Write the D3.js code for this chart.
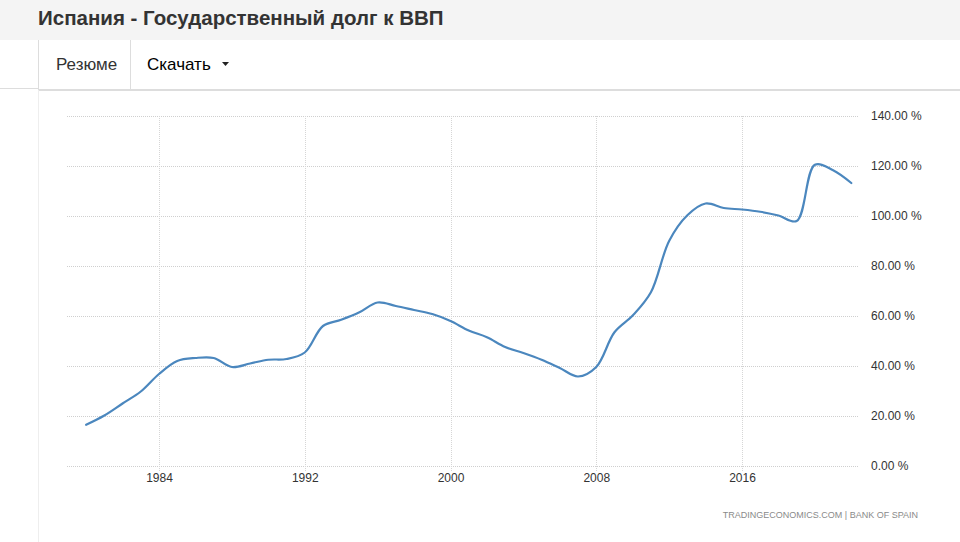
<!DOCTYPE html>
<html>
<head>
<meta charset="utf-8">
<script src="https://cdn.jsdelivr.net/npm/d3@7"></script>
<style>
  html, body { margin: 0; padding: 0; background: #fff; }
  svg { display: block; font-family: "Liberation Sans", Arial, sans-serif; }
</style>
</head>
<body>
<svg id="chart" width="960" height="542"></svg>
<script>
const years = [1980, 1981, 1982, 1983, 1984, 1985, 1986, 1987, 1988, 1989,
  1990, 1991, 1992, 1993, 1994, 1995, 1996, 1997, 1998, 1999,
  2000, 2001, 2002, 2003, 2004, 2005, 2006, 2007, 2008, 2009,
  2010, 2011, 2012, 2013, 2014, 2015, 2016, 2017, 2018, 2019,
  2020, 2021, 2022];
const debt = [16.5, 20.2, 25.0, 29.8, 36.8, 42.0, 43.2, 43.2, 39.6, 41.0,
  42.5, 42.8, 45.4, 56.0, 58.5, 61.5, 65.4, 64.0, 62.4, 60.8,
  58.0, 54.2, 51.5, 47.6, 45.2, 42.5, 39.2, 35.8, 39.6, 53.5,
  60.2, 69.5, 90.0, 100.3, 105.0, 103.2, 102.6, 101.7, 100.2, 98.0,
  120.5, 118.3, 113.2];
const xTicks = [1984, 1992, 2000, 2008, 2016];
const yTicks = [0, 20, 40, 60, 80, 100, 120, 140];

const svg = d3.select('#chart');

// page chrome: header band, tabs
svg.append('rect').attr('x', 0).attr('y', 0).attr('width', 960).attr('height', 40).attr('fill', '#f4f4f4');
svg.append('text').attr('x', 38).attr('y', 25)
  .attr('font-size', 20.5).attr('font-weight', 'bold').attr('fill', '#333')
  .text('Испания - Государственный долг к ВВП');

svg.append('line').attr('x1', 0).attr('x2', 39).attr('y1', 88.5).attr('y2', 88.5).attr('stroke', '#ddd');
svg.append('line').attr('x1', 38.5).attr('x2', 38.5).attr('y1', 40).attr('y2', 90).attr('stroke', '#ddd');
svg.append('line').attr('x1', 38.5).attr('x2', 38.5).attr('y1', 90).attr('y2', 542).attr('stroke', '#eee');
svg.append('line').attr('x1', 130.5).attr('x2', 130.5).attr('y1', 40).attr('y2', 89).attr('stroke', '#ddd');
svg.append('rect').attr('x', 39).attr('y', 89).attr('width', 921).attr('height', 2).attr('fill', '#ddd');

svg.append('text').attr('x', 56).attr('y', 70).attr('font-size', 17).attr('fill', '#333').text('Резюме');
svg.append('text').attr('x', 147).attr('y', 70).attr('font-size', 17).attr('fill', '#000').text('Скачать');
svg.append('path').attr('d', 'M222,62 L229,62 L225.5,66 Z').attr('fill', '#222');

// chart
const x = d3.scaleLinear().domain([1984, 2016]).range([159, 742]);
const y = d3.scaleLinear().domain([0, 140]).range([466, 116]);
const gridLeft = 67, gridRight = 858;

const grid = svg.append('g');
grid.selectAll('line.h').data(yTicks).enter().append('line')
  .attr('class', 'h')
  .attr('x1', gridLeft).attr('x2', gridRight)
  .attr('y1', d => Math.round(y(d)) + 0.5).attr('y2', d => Math.round(y(d)) + 0.5)
  .attr('stroke', '#cfcfcf').attr('stroke-dasharray', '1,1');
grid.selectAll('line.v').data(xTicks).enter().append('line')
  .attr('class', 'v')
  .attr('x1', d => Math.round(x(d)) + 0.5).attr('x2', d => Math.round(x(d)) + 0.5)
  .attr('y1', y(140)).attr('y2', y(0) + 6)
  .attr('stroke', '#d6d6d6').attr('stroke-dasharray', '1,1');

const yAxis = d3.axisRight(y).tickValues(yTicks).tickSize(0).tickPadding(0)
  .tickFormat(d => d3.format('.2f')(d) + ' %');
svg.append('g').attr('transform', `translate(871,0)`).call(yAxis)
  .call(g => g.select('.domain').remove())
  .call(g => g.selectAll('text').attr('font-size', 12).attr('fill', '#333')
    .attr('font-family', '"Liberation Sans", Arial, sans-serif'));

const xAxis = d3.axisBottom(x).tickValues(xTicks).tickSize(0).tickPadding(0)
  .tickFormat(d3.format('d'));
svg.append('g').attr('transform', `translate(0,473)`).call(xAxis)
  .call(g => g.select('.domain').remove())
  .call(g => g.selectAll('text').attr('font-size', 12).attr('fill', '#333')
    .attr('font-family', '"Liberation Sans", Arial, sans-serif'));

const line = d3.line()
  .x((d, i) => x(years[i]))
  .y(d => y(d))
  .curve(d3.curveCatmullRom.alpha(0.5));

svg.append('path').datum(debt)
  .attr('d', line)
  .attr('fill', 'none')
  .attr('stroke', '#4b87be')
  .attr('stroke-width', 2.2)
  .attr('stroke-linecap', 'round')
  .attr('stroke-linejoin', 'round');

svg.append('text').attr('x', 918).attr('y', 518).attr('text-anchor', 'end')
  .attr('font-size', 9).attr('fill', '#8a8a8a')
  .text('TRADINGECONOMICS.COM  |  BANK OF SPAIN');
</script>
</body>
</html>
